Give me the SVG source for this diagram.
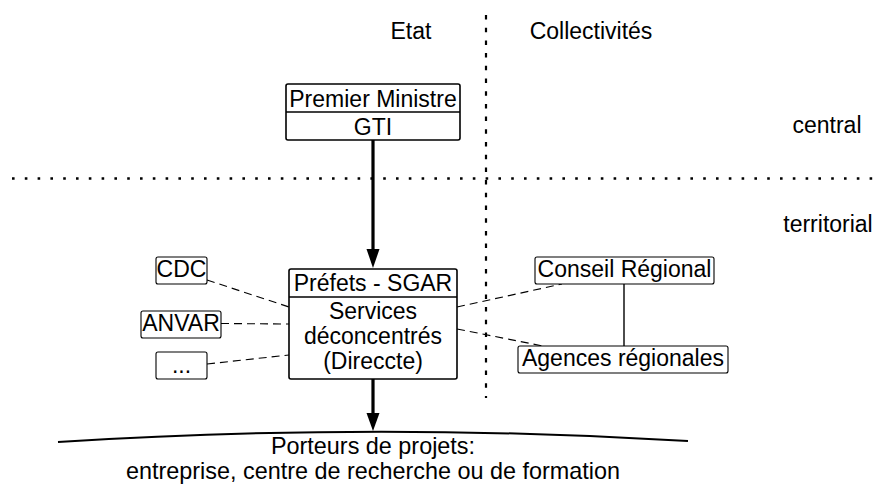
<svg xmlns="http://www.w3.org/2000/svg" width="874" height="484" viewBox="0 0 874 484">
<style>
text{font-family:"Liberation Sans",Arial,Helvetica,sans-serif;font-size:23px;fill:#000;text-anchor:middle}
.big{font-size:23.4px}
.box{fill:#fff;stroke:#000;stroke-width:1.6}
.sbox{fill:#fff;stroke:#000;stroke-width:1.1}
.dash{stroke:#000;stroke-width:1.1;stroke-dasharray:8 5;fill:none}
.thick{stroke:#000;stroke-width:3.2;fill:none}
</style>
<rect width="874" height="484" fill="#fff"/>
<g id="grid">
<line x1="12" y1="178.5" x2="874" y2="178.5" stroke="#000" stroke-width="2.6" stroke-dasharray="2.6 10.2"/>
<line x1="486" y1="15" x2="486" y2="398" stroke="#000" stroke-width="2.2" stroke-dasharray="4.5 8.2"/>
<text x="411" y="39">Etat</text>
<text x="591" y="39">Collectivités</text>
<text x="827" y="133">central</text>
<text x="828" y="232">territorial</text>
</g>
<g id="connectors">
<line class="thick" x1="373" y1="140" x2="373" y2="250"/>
<polygon points="366.5,249 379.5,249 373,268"/>
<line class="thick" x1="373" y1="379" x2="373" y2="414"/>
<polygon points="366.5,413 379.5,413 373,431"/>
<line class="dash" x1="207" y1="280" x2="289" y2="307"/>
<line class="dash" x1="221" y1="323.5" x2="289" y2="324"/>
<line class="dash" x1="207" y1="364" x2="289" y2="355"/>
<line class="dash" x1="457" y1="307" x2="562" y2="284"/>
<line class="dash" x1="457" y1="329" x2="543" y2="346"/>
<line x1="624" y1="284" x2="624" y2="346" stroke="#000" stroke-width="1.4"/>
</g>
<g id="premier">
<rect class="box" x="286" y="84" width="174" height="56" rx="2"/>
<line x1="286" y1="112" x2="460" y2="112" stroke="#000" stroke-width="1.6"/>
<text x="373" y="107">Premier Ministre</text>
<text x="373" y="135">GTI</text>
</g>
<g id="prefets">
<rect class="box" x="289" y="269" width="168" height="110" rx="2"/>
<line x1="289" y1="297" x2="457" y2="297" stroke="#000" stroke-width="1.6"/>
<text x="373" y="291">Préfets - SGAR</text>
<text x="373" y="319">Services</text>
<text x="373" y="344">déconcentrés</text>
<text x="373" y="369">(Direccte)</text>
</g>
<g id="cdc">
<rect class="sbox" x="156" y="257" width="51" height="27" rx="2"/>
<text x="181.5" y="277">CDC</text>
</g>
<g id="anvar">
<rect class="sbox" x="141" y="311" width="80" height="27" rx="2"/>
<text x="181" y="331">ANVAR</text>
</g>
<g id="etc">
<rect class="sbox" x="156" y="352" width="51" height="27" rx="2"/>
<text x="181.5" y="373">...</text>
</g>
<g id="conseil">
<rect class="sbox" x="535" y="257" width="179" height="27" rx="2"/>
<text x="624.5" y="277">Conseil Régional</text>
</g>
<g id="agences">
<rect class="sbox" x="518" y="346" width="210" height="27" rx="2"/>
<text x="623" y="366">Agences régionales</text>
</g>
<g id="porteurs">
<path d="M58 442 Q373 422 688 441" fill="none" stroke="#000" stroke-width="2"/>
<text class="big" x="373" y="454">Porteurs de projets:</text>
<text class="big" x="373" y="479">entreprise, centre de recherche ou de formation</text>
</g>
</svg>
